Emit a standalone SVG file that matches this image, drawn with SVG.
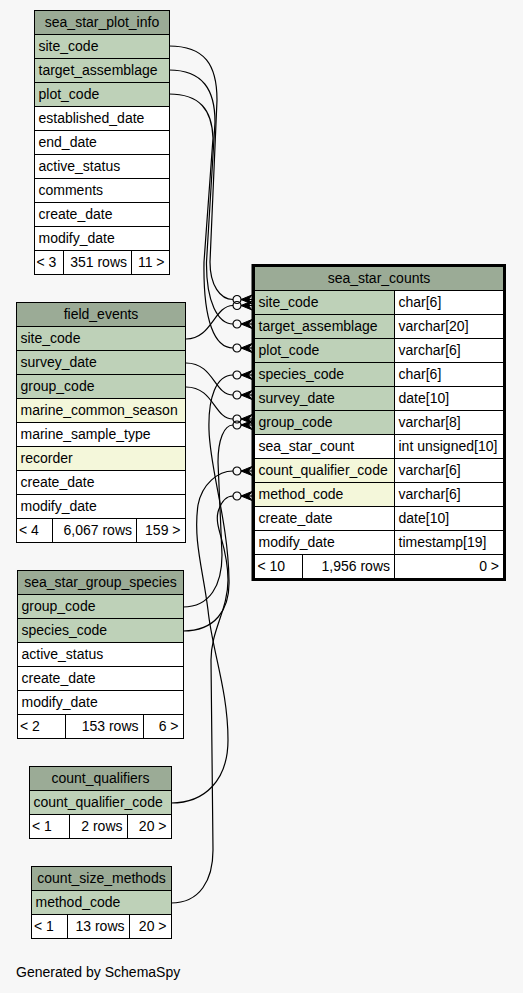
<svg xmlns="http://www.w3.org/2000/svg" xmlns:xlink="http://www.w3.org/1999/xlink" width="523" height="993" viewBox="0 0 523 993">
<style>
rect{stroke:#000;stroke-width:1}
.h{fill:#9bab96}.k{fill:#bed1b8}.i{fill:#f4f7da}.c{fill:#ffffff}
text{font-family:"Liberation Sans",Arial,Helvetica,sans-serif;font-size:14px;fill:#000}
.m{text-anchor:middle}.e{text-anchor:end}
.edge{fill:none;stroke:#000;stroke-width:1.2}
</style>
<defs>
<g id="cf">
<circle cx="4" cy="0" r="4" fill="none" stroke="#000" stroke-width="1.2"/>
<polygon points="8,0 19,-4.5 15.5,0 19,4.5" fill="#000" stroke="#000" stroke-width="1"/>
<line x1="8" y1="0" x2="19" y2="0" stroke="#000" stroke-width="1.2"/>
</g>
</defs>
<rect x="0" y="0" width="523" height="993" fill="#f7f7f7" style="stroke:none"/>

<g id="sea_star_plot_info">
<rect class="h" x="34.5" y="10.5" width="135" height="24"/><text class="m" x="102" y="27">sea_star_plot_info</text>
<rect class="k" x="34.5" y="34.5" width="135" height="24"/><text x="38.5" y="51">site_code</text>
<rect class="k" x="34.5" y="58.5" width="135" height="24"/><text x="38.5" y="75">target_assemblage</text>
<rect class="k" x="34.5" y="82.5" width="135" height="24"/><text x="38.5" y="99">plot_code</text>
<rect class="c" x="34.5" y="106.5" width="135" height="24"/><text x="38.5" y="123">established_date</text>
<rect class="c" x="34.5" y="130.5" width="135" height="24"/><text x="38.5" y="147">end_date</text>
<rect class="c" x="34.5" y="154.5" width="135" height="24"/><text x="38.5" y="171">active_status</text>
<rect class="c" x="34.5" y="178.5" width="135" height="24"/><text x="38.5" y="195">comments</text>
<rect class="c" x="34.5" y="202.5" width="135" height="24"/><text x="38.5" y="219">create_date</text>
<rect class="c" x="34.5" y="226.5" width="135" height="24"/><text x="38.5" y="243">modify_date</text>
<rect class="c" x="34.5" y="250.5" width="29" height="24"/><text x="36.5" y="267">&lt; 3</text>
<rect class="c" x="63.5" y="250.5" width="68" height="24"/><text class="e" x="127" y="267">351 rows</text>
<rect class="c" x="131.5" y="250.5" width="38" height="24"/><text class="e" x="164.5" y="267">11 &gt;</text>
</g>

<g id="field_events">
<rect class="h" x="16.5" y="302.5" width="169" height="24"/><text class="m" x="101" y="319">field_events</text>
<rect class="k" x="16.5" y="326.5" width="169" height="24"/><text x="20.5" y="343">site_code</text>
<rect class="k" x="16.5" y="350.5" width="169" height="24"/><text x="20.5" y="367">survey_date</text>
<rect class="k" x="16.5" y="374.5" width="169" height="24"/><text x="20.5" y="391">group_code</text>
<rect class="i" x="16.5" y="398.5" width="169" height="24"/><text x="20.5" y="415">marine_common_season</text>
<rect class="c" x="16.5" y="422.5" width="169" height="24"/><text x="20.5" y="439">marine_sample_type</text>
<rect class="i" x="16.5" y="446.5" width="169" height="24"/><text x="20.5" y="463">recorder</text>
<rect class="c" x="16.5" y="470.5" width="169" height="24"/><text x="20.5" y="487">create_date</text>
<rect class="c" x="16.5" y="494.5" width="169" height="24"/><text x="20.5" y="511">modify_date</text>
<rect class="c" x="16.5" y="518.5" width="36" height="24"/><text x="19" y="535">&lt; 4</text>
<rect class="c" x="52.5" y="518.5" width="84" height="24"/><text class="e" x="132" y="535">6,067 rows</text>
<rect class="c" x="136.5" y="518.5" width="49" height="24"/><text class="e" x="180.5" y="535">159 &gt;</text>
</g>

<g id="sea_star_group_species">
<rect class="h" x="17.5" y="570.5" width="166" height="24"/><text class="m" x="100.5" y="587">sea_star_group_species</text>
<rect class="k" x="17.5" y="594.5" width="166" height="24"/><text x="21.5" y="611">group_code</text>
<rect class="k" x="17.5" y="618.5" width="166" height="24"/><text x="21.5" y="635">species_code</text>
<rect class="c" x="17.5" y="642.5" width="166" height="24"/><text x="21.5" y="659">active_status</text>
<rect class="c" x="17.5" y="666.5" width="166" height="24"/><text x="21.5" y="683">create_date</text>
<rect class="c" x="17.5" y="690.5" width="166" height="24"/><text x="21.5" y="707">modify_date</text>
<rect class="c" x="17.5" y="714.5" width="48" height="24"/><text x="20" y="731">&lt; 2</text>
<rect class="c" x="65.5" y="714.5" width="78" height="24"/><text class="e" x="138.5" y="731">153 rows</text>
<rect class="c" x="143.5" y="714.5" width="40" height="24"/><text class="e" x="178.5" y="731">6 &gt;</text>
</g>

<g id="count_qualifiers">
<rect class="h" x="29.5" y="766.5" width="142" height="24"/><text class="m" x="100.5" y="783">count_qualifiers</text>
<rect class="k" x="29.5" y="790.5" width="142" height="24"/><text x="33.5" y="807">count_qualifier_code</text>
<rect class="c" x="29.5" y="814.5" width="40" height="24"/><text x="32" y="831">&lt; 1</text>
<rect class="c" x="69.5" y="814.5" width="58" height="24"/><text class="e" x="122.5" y="831">2 rows</text>
<rect class="c" x="127.5" y="814.5" width="44" height="24"/><text class="e" x="166.5" y="831">20 &gt;</text>
</g>

<g id="count_size_methods">
<rect class="h" x="31.5" y="866.5" width="140" height="24"/><text class="m" x="101.5" y="883">count_size_methods</text>
<rect class="k" x="31.5" y="890.5" width="140" height="24"/><text x="35.5" y="907">method_code</text>
<rect class="c" x="31.5" y="914.5" width="36" height="24"/><text x="34" y="931">&lt; 1</text>
<rect class="c" x="67.5" y="914.5" width="62" height="24"/><text class="e" x="124.5" y="931">13 rows</text>
<rect class="c" x="129.5" y="914.5" width="42" height="24"/><text class="e" x="166.5" y="931">20 &gt;</text>
</g>

<g id="sea_star_counts">
<rect class="h" x="254.5" y="266.5" width="249" height="24"/><text class="m" x="379" y="283">sea_star_counts</text>
<rect class="k" x="254.5" y="290.5" width="140" height="24"/><rect class="c" x="394.5" y="290.5" width="109" height="24"/>
<text x="258.5" y="307">site_code</text><text x="398.5" y="307">char[6]</text>
<rect class="k" x="254.5" y="314.5" width="140" height="24"/><rect class="c" x="394.5" y="314.5" width="109" height="24"/>
<text x="258.5" y="331">target_assemblage</text><text x="398.5" y="331">varchar[20]</text>
<rect class="k" x="254.5" y="338.5" width="140" height="24"/><rect class="c" x="394.5" y="338.5" width="109" height="24"/>
<text x="258.5" y="355">plot_code</text><text x="398.5" y="355">varchar[6]</text>
<rect class="k" x="254.5" y="362.5" width="140" height="24"/><rect class="c" x="394.5" y="362.5" width="109" height="24"/>
<text x="258.5" y="379">species_code</text><text x="398.5" y="379">char[6]</text>
<rect class="k" x="254.5" y="386.5" width="140" height="24"/><rect class="c" x="394.5" y="386.5" width="109" height="24"/>
<text x="258.5" y="403">survey_date</text><text x="398.5" y="403">date[10]</text>
<rect class="k" x="254.5" y="410.5" width="140" height="24"/><rect class="c" x="394.5" y="410.5" width="109" height="24"/>
<text x="258.5" y="427">group_code</text><text x="398.5" y="427">varchar[8]</text>
<rect class="c" x="254.5" y="434.5" width="140" height="24"/><rect class="c" x="394.5" y="434.5" width="109" height="24"/>
<text x="258.5" y="451">sea_star_count</text><text x="398.5" y="451">int unsigned[10]</text>
<rect class="i" x="254.5" y="458.5" width="140" height="24"/><rect class="c" x="394.5" y="458.5" width="109" height="24"/>
<text x="258.5" y="475">count_qualifier_code</text><text x="398.5" y="475">varchar[6]</text>
<rect class="i" x="254.5" y="482.5" width="140" height="24"/><rect class="c" x="394.5" y="482.5" width="109" height="24"/>
<text x="258.5" y="499">method_code</text><text x="398.5" y="499">varchar[6]</text>
<rect class="c" x="254.5" y="506.5" width="140" height="24"/><rect class="c" x="394.5" y="506.5" width="109" height="24"/>
<text x="258.5" y="523">create_date</text><text x="398.5" y="523">date[10]</text>
<rect class="c" x="254.5" y="530.5" width="140" height="24"/><rect class="c" x="394.5" y="530.5" width="109" height="24"/>
<text x="258.5" y="547">modify_date</text><text x="398.5" y="547">timestamp[19]</text>
<rect class="c" x="254.5" y="554.5" width="48" height="24"/><text x="257.5" y="571">&lt; 10</text>
<rect class="c" x="302.5" y="554.5" width="92" height="24"/><text class="e" x="390" y="571">1,956 rows</text>
<rect class="c" x="394.5" y="554.5" width="109" height="24"/><text class="e" x="499" y="571">0 &gt;</text>
<rect x="253" y="265.5" width="251.5" height="314" fill="none" style="stroke-width:3"/>
</g>

<g id="connectors">
<path class="edge" d="M169,46 C205,46 217,65 217,100 L210,262 C210,285 220,299.5 233,299.5"/>
<path class="edge" d="M169,70 C203,70 215,90 215,122 L206.5,262 C206,302 218,324 233,324"/>
<path class="edge" d="M169,94 C200,94 212,110 213,138 L204,262 C203,322 215,348 233,348"/>
<path class="edge" d="M186,339 C212,339 214,305.5 233,305.5"/>
<path class="edge" d="M186,363 C214,363 214,395 233,395"/>
<path class="edge" d="M186,387 C214,387 214,419 233,419"/>
<path class="edge" d="M183,607 C210,607 222,585 222,555 L218,462 C218,440 224,425 233,425"/>
<path class="edge" d="M183,631 C215,631 230,610 229,580 C228,520 210,470 209,430 C208,398 216,375 233,375"/>
<path class="edge" d="M171,803 C205,803 228,780 228,740 C228,690 212,650 208,610 C203,570 193,540 198,505 C202,484 218,471 233,471"/>
<path class="edge" d="M171,903 C200,903 213,880 213,850 L211,660 C211,630 228,610 228,580 C228,545 214,528 218,512 C221,502 226,496 233,496"/>
<use xlink:href="#cf" x="233" y="299.5"/>
<use xlink:href="#cf" x="233" y="305.5"/>
<use xlink:href="#cf" x="233" y="324"/>
<use xlink:href="#cf" x="233" y="348"/>
<use xlink:href="#cf" x="233" y="375"/>
<use xlink:href="#cf" x="233" y="395"/>
<use xlink:href="#cf" x="233" y="419"/>
<use xlink:href="#cf" x="233" y="425"/>
<use xlink:href="#cf" x="233" y="471"/>
<use xlink:href="#cf" x="233" y="496"/>
</g>

<text x="16" y="977">Generated by SchemaSpy</text>
</svg>
